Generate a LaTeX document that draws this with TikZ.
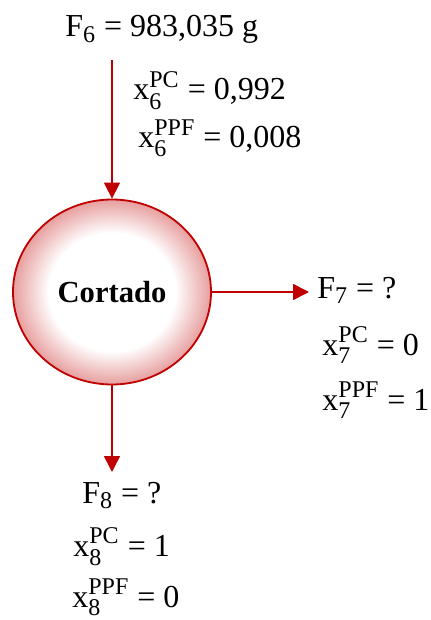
\documentclass[tikz,border=0pt]{standalone}
\usepackage{amsmath}
\usepackage{fontspec}
\setmainfont{Liberation Serif}
\usetikzlibrary{arrows.meta, positioning, shapes.geometric}

\definecolor{cutred}{RGB}{192,0,0}
\pgfdeclareradialshading{rimshade}{\pgfpoint{0bp}{0bp}}{%
  color(0bp)=(white); color(16bp)=(white); color(25bp)=(cutred!38); color(50bp)=(cutred!38)}

\newcommand{\sml}[1]{\text{\fontsize{12}{12}\selectfont #1}}
\newcommand{\xcomp}[3]{x$^{\sml{#2}}_{\sml{#1}}$ = #3}

\begin{document}
\begin{tikzpicture}[
    x=0.5pt, y=-0.5pt,
    lbl/.style={anchor=base west, inner sep=0pt, font=\fontsize{16}{19}\selectfont},
    unitop/.style={draw=cutred, line width=0.9pt, ellipse, minimum width=99pt, minimum height=92.5pt,
      shading=rimshade, font=\fontsize{15.3}{18}\selectfont\bfseries},
    arr/.style={-{Triangle[length=8pt, width=8pt]}, draw=cutred, line width=0.8pt}
]
\useasboundingbox (0,0) rectangle (430,620);

% unit
\node[unitop] (cortado) at (112,292) {Cortado};

% stream 6 (feed)
\node[lbl] (f6) at (65,37) {F$_{\sml{6}}$ = 983,035 g};
\node[lbl] (xpc6) at (133,100) {\xcomp{6}{PC}{0,992}};
\node[lbl] (xppf6) at (138,148) {\xcomp{6}{PPF}{0,008}};
\coordinate (in6) at (112,60);

% stream 7
\node[lbl] (f7) at (317,298) {F$_{\sml{7}}$ = ?};
\node[lbl] (xpc7) at (322,355) {\xcomp{7}{PC}{0}};
\node[lbl] (xppf7) at (322,410) {\xcomp{7}{PPF}{1}};
\coordinate (out7) at (309,292);

% stream 8
\node[lbl] (f8) at (82,503) {F$_{\sml{8}}$ = ?};
\node[lbl] (xpc8) at (73,556) {\xcomp{8}{PC}{1}};
\node[lbl] (xppf8) at (72,607) {\xcomp{8}{PPF}{0}};
\coordinate (out8) at (112,472);

\draw[arr] (in6) -- (cortado.north);
\draw[arr] (cortado.east) -- (out7);
\draw[arr] (cortado.south) -- (out8);
\end{tikzpicture}
\end{document}
